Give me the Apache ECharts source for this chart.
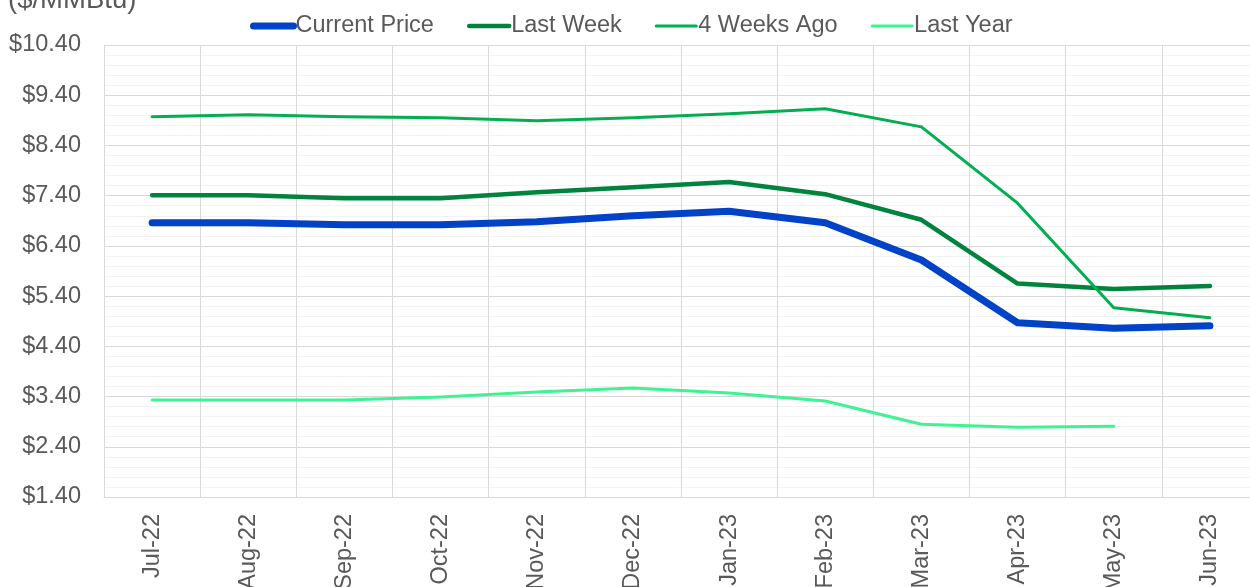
<!DOCTYPE html>
<html>
<head>
<meta charset="utf-8">
<script src="https://cdn.jsdelivr.net/npm/echarts@6/dist/echarts.min.js"></script>
<style>
html,body{margin:0;padding:0;background:#fff;}
#chart{width:1250px;height:587px;}
</style>
</head>
<body>
<div id="chart"></div>
<script>
const categories = ['Jul-22','Aug-22','Sep-22','Oct-22','Nov-22','Dec-22','Jan-23','Feb-23','Mar-23','Apr-23','May-23','Jun-23'];
const currentPrice = [6.86, 6.86, 6.82, 6.82, 6.88, 7.00, 7.09, 6.86, 6.12, 4.87, 4.76, 4.81];
const lastWeek     = [7.41, 7.41, 7.35, 7.35, 7.47, 7.57, 7.67, 7.43, 6.92, 5.65, 5.54, 5.60];
const weeksAgo4    = [8.97, 9.01, 8.97, 8.95, 8.89, 8.95, 9.03, 9.13, 8.77, 7.25, 5.17, 4.97];
const lastYear     = [3.33, 3.33, 3.33, 3.39, 3.49, 3.57, 3.47, 3.31, 2.85, 2.79, 2.81, null];
const yMin = 1.4, yMax = 10.4, yStep = 1;

const chart = echarts.init(document.getElementById('chart'), null, {renderer: 'canvas'});
const font = 'Liberation Sans, Arial, sans-serif';
const txt = '#595959';
const fs = 23.5;

function mk(name, data, color, width) {
  return {
    name: name, type: 'line', data: data,
    showSymbol: false, symbol: 'none',
    lineStyle: {color: color, width: width, cap: 'round', join: 'round'},
    itemStyle: {color: color},
    emphasis: {disabled: true},
    animation: false
  };
}
const noSym = {color: 'rgba(0,0,0,0)', borderColor: 'rgba(0,0,0,0)', borderWidth: 0, opacity: 0};

chart.setOption({
  animation: false,
  title: {
    text: '($/MMBtu)', left: 8, top: -14, padding: 0,
    textStyle: {fontFamily: font, fontSize: 27.5, fontWeight: 'normal', color: txt}
  },
  legend: {
    left: 250, top: 14, padding: 0,
    itemWidth: 40, itemHeight: 14, itemGap: 33,
    textStyle: {fontFamily: font, fontSize: fs, color: txt, padding: [0,0,0,-3]},
    data: [
      {name: 'Current Price', lineStyle: {width: 7, cap: 'round'}, itemStyle: noSym},
      {name: 'Last Week', lineStyle: {width: 4.5, cap: 'round'}, itemStyle: noSym},
      {name: '4 Weeks Ago', lineStyle: {width: 3, cap: 'round'}, itemStyle: noSym},
      {name: 'Last Year', lineStyle: {width: 3, cap: 'round'}, itemStyle: noSym}
    ]
  },
  grid: {left: 104, top: 45, width: 1154, height: 452, containLabel: false, outerBoundsMode: 'none'},
  xAxis: {
    type: 'category', data: categories, boundaryGap: true,
    axisLine: {show: true, lineStyle: {color: '#D9D9D9', width: 1}},
    axisTick: {show: false},
    splitLine: {show: true, lineStyle: {color: '#D9D9D9', width: 1}},
    axisLabel: {rotate: 90, margin: 17, fontFamily: font, fontSize: fs, color: txt, interval: 0}
  },
  yAxis: {
    type: 'value', min: yMin, max: yMax, interval: yStep,
    axisLine: {show: true, lineStyle: {color: '#D9D9D9'}},
    axisTick: {show: false},
    splitLine: {show: true, lineStyle: {color: '#D9D9D9', width: 1}},
    minorTick: {show: false, splitNumber: 5},
    minorSplitLine: {show: true, lineStyle: {color: '#F2F2F2', width: 1}},
    axisLabel: {
      margin: 23, fontFamily: font, fontSize: fs, color: txt,
      formatter: function (v) { return '$' + v.toFixed(2); }
    }
  },
  series: [
    mk('Current Price', currentPrice, '#0042C8', 7),
    mk('Last Week', lastWeek, '#00843D', 4.5),
    mk('4 Weeks Ago', weeksAgo4, '#00B050', 3),
    mk('Last Year', lastYear, '#3CF590', 3)
  ]
});
</script>
</body>
</html>
